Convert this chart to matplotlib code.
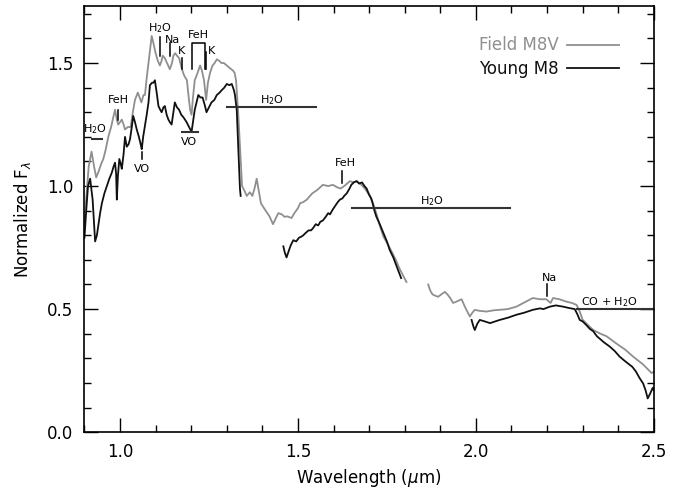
import numpy as np
import matplotlib
matplotlib.use("Agg")
import matplotlib.pyplot as plt
from matplotlib.ticker import MultipleLocator

nan = np.nan

# Field M8V spectrum (gray)
field_wl = [0.900, 0.905, 0.912, 0.920, 0.927, 0.933, 0.940, 0.947, 0.953, 0.960, 0.967, 0.975,
            0.981, 0.986, 0.991, 0.995, 1.000, 1.005, 1.010, 1.014, 1.022, 1.030, 1.036, 1.042,
            1.050, 1.055, 1.060, 1.066, 1.070, 1.075, 1.080, 1.084, 1.089, 1.094, 1.100, 1.106,
            1.112, 1.117, 1.120, 1.126, 1.132, 1.140, 1.146, 1.150, 1.155, 1.160, 1.166, 1.174,
            1.180, 1.188, 1.193, 1.197, 1.201, 1.205, 1.210, 1.218, 1.225, 1.230, 1.236, 1.242,
            1.247, 1.253, 1.260, 1.266, 1.272, 1.278, 1.285, 1.292, 1.300, 1.308, 1.317, 1.322,
            1.326, 1.332, 1.337, 1.340, 1.343, 1.350, 1.356, 1.365, 1.372, 1.378, 1.384, 1.390,
            1.396, 1.407, 1.420, 1.430, 1.438, 1.445, 1.455, 1.462, 1.470, 1.482, 1.490, 1.500,
            1.506, 1.515, 1.525, 1.540, 1.555, 1.570, 1.585, 1.598, 1.610, 1.620, 1.630, 1.646,
            1.655, 1.665, 1.675, 1.688, 1.702, 1.712, 1.720, 1.730, 1.740, 1.752, 1.763, 1.775,
            1.787, 1.796, 1.805,
            1.835,
            1.866, 1.872, 1.878, 1.885, 1.894, 1.903, 1.913, 1.920, 1.928, 1.936, 1.945, 1.952,
            1.960, 1.969, 1.976, 1.983, 1.990, 1.997, 2.010, 2.030, 2.050, 2.067, 2.090, 2.114,
            2.140, 2.160, 2.180, 2.198, 2.210, 2.217, 2.235, 2.255, 2.270, 2.283, 2.292, 2.300,
            2.315, 2.330, 2.350, 2.367, 2.395, 2.420, 2.442, 2.470, 2.494, 2.500]
field_flux = [0.85, 0.95, 1.08, 1.14, 1.08, 1.035, 1.06, 1.09, 1.11, 1.15, 1.20, 1.24,
              1.28, 1.31, 1.27, 1.25, 1.26, 1.27, 1.25, 1.23, 1.24, 1.24, 1.30, 1.35,
              1.38, 1.36, 1.34, 1.37, 1.37, 1.44, 1.50, 1.55, 1.61, 1.58, 1.54, 1.51,
              1.49, 1.51, 1.53, 1.52, 1.50, 1.475, 1.50, 1.53, 1.54, 1.53, 1.52, 1.475,
              1.45, 1.43, 1.36, 1.31, 1.29, 1.36, 1.43, 1.46, 1.49, 1.47, 1.43, 1.35,
              1.42, 1.46, 1.49, 1.50, 1.515, 1.51, 1.50, 1.50, 1.49, 1.48, 1.47, 1.46,
              1.43, 1.30, 1.16, 1.07, 1.00, 0.98, 0.96, 0.975, 0.96, 0.99, 1.03, 0.98,
              0.93, 0.905, 0.877, 0.845, 0.87, 0.89, 0.885, 0.875, 0.877, 0.87, 0.89, 0.91,
              0.93, 0.935, 0.945, 0.97, 0.985, 1.005, 1.00, 1.005, 0.995, 0.99, 1.00, 1.02,
              1.015, 1.02, 1.01, 0.99, 0.96, 0.925, 0.89, 0.84, 0.795, 0.765, 0.735, 0.70,
              0.66, 0.635, 0.61,
              nan,
              0.60, 0.575, 0.56, 0.555, 0.55, 0.56, 0.57, 0.56, 0.545, 0.525, 0.53, 0.535,
              0.54, 0.51, 0.49, 0.47, 0.485, 0.497, 0.493, 0.49, 0.495, 0.497, 0.50, 0.51,
              0.53, 0.545, 0.54, 0.54, 0.525, 0.545, 0.54, 0.53, 0.525, 0.517, 0.49, 0.457,
              0.435, 0.415, 0.40, 0.39, 0.36, 0.335, 0.307, 0.275, 0.24, 0.245]

# Young M8 spectrum (black)
young_wl = [0.900, 0.905, 0.910, 0.916, 0.923, 0.927, 0.930, 0.935, 0.939, 0.944, 0.949, 0.956,
            0.963, 0.970, 0.977, 0.982, 0.986, 0.989, 0.991, 0.994, 0.998, 1.002, 1.005, 1.010,
            1.014, 1.019, 1.024, 1.028, 1.033, 1.037, 1.042, 1.047, 1.053, 1.058, 1.061, 1.065,
            1.070, 1.075, 1.080, 1.084, 1.090, 1.094, 1.098, 1.103, 1.108, 1.113, 1.117, 1.122,
            1.126, 1.131, 1.136, 1.140, 1.145, 1.150, 1.154, 1.160, 1.166, 1.172, 1.178, 1.187,
            1.194, 1.201, 1.205, 1.210, 1.215, 1.220, 1.226, 1.232, 1.238, 1.243, 1.250, 1.257,
            1.265, 1.272, 1.280, 1.286, 1.293, 1.300, 1.307, 1.314, 1.320, 1.323, 1.328, 1.331,
            1.334, 1.337, 1.339,
            1.400,
            1.459, 1.463, 1.468, 1.475, 1.480, 1.487, 1.495, 1.503, 1.510, 1.515, 1.522, 1.530,
            1.537, 1.543, 1.550, 1.557, 1.563, 1.570, 1.578, 1.585, 1.590, 1.598, 1.605, 1.612,
            1.618, 1.625, 1.630, 1.637, 1.645, 1.650, 1.657, 1.665, 1.672, 1.680, 1.687, 1.693,
            1.700, 1.706, 1.710, 1.715, 1.720, 1.730, 1.740, 1.750, 1.758, 1.768, 1.777, 1.785,
            1.790,
            1.900,
            1.988, 1.993, 1.997, 2.004, 2.011, 2.025, 2.040, 2.055, 2.067, 2.090, 2.114, 2.135,
            2.160, 2.180, 2.190, 2.208, 2.225, 2.245, 2.260, 2.278, 2.285, 2.292, 2.300, 2.310,
            2.320, 2.330, 2.340, 2.348, 2.360, 2.376, 2.390, 2.404, 2.418, 2.433, 2.440, 2.450,
            2.460, 2.470, 2.477, 2.483, 2.490, 2.497, 2.500]
young_flux = [0.79, 0.90, 1.00, 1.03, 0.945, 0.85, 0.775, 0.80, 0.84, 0.89, 0.93, 0.97,
              1.00, 1.03, 1.055, 1.08, 1.095, 1.05, 0.945, 1.04, 1.11, 1.09, 1.07, 1.13,
              1.20, 1.16, 1.17, 1.19, 1.24, 1.285, 1.26, 1.23, 1.20, 1.17, 1.15, 1.20,
              1.245, 1.29, 1.34, 1.41, 1.42, 1.42, 1.43, 1.38, 1.325, 1.31, 1.30, 1.32,
              1.325, 1.29, 1.27, 1.26, 1.25, 1.30, 1.34, 1.32, 1.31, 1.29, 1.28, 1.26,
              1.24, 1.22, 1.26, 1.31, 1.34, 1.37, 1.36, 1.36, 1.33, 1.30, 1.32, 1.34,
              1.35, 1.37, 1.38, 1.39, 1.40, 1.415, 1.41, 1.415, 1.39, 1.37, 1.31, 1.20,
              1.08, 0.99, 0.96,
              nan,
              0.755, 0.73, 0.71, 0.74, 0.76, 0.78, 0.775, 0.79, 0.795, 0.80, 0.81, 0.82,
              0.82, 0.83, 0.845, 0.84, 0.855, 0.86, 0.875, 0.89, 0.885, 0.905, 0.92, 0.935,
              0.945, 0.95, 0.96, 0.97, 0.99, 1.005, 1.015, 1.02, 1.01, 1.015, 1.00, 0.99,
              0.965, 0.95, 0.93, 0.90, 0.877, 0.845, 0.81, 0.775, 0.74, 0.71, 0.675, 0.645,
              0.626,
              nan,
              0.456, 0.43, 0.415, 0.44, 0.456, 0.45, 0.443, 0.45, 0.456, 0.465, 0.477, 0.485,
              0.497, 0.503, 0.50, 0.51, 0.515, 0.51, 0.505, 0.50, 0.48, 0.456, 0.45, 0.436,
              0.42, 0.41, 0.39, 0.38, 0.365, 0.348, 0.33, 0.307, 0.29, 0.273, 0.265, 0.246,
              0.22, 0.198, 0.17, 0.137, 0.157, 0.18, 0.17]

# short feature ticks
tick_labels = ["FeH", "VO", "H$_2$O", "Na", "K", "K", "FeH", "Na"]
tick_x = [0.993, 1.061, 1.112, 1.140, 1.175, 1.243, 1.624, 2.201]
tick_y0 = [1.27, 1.11, 1.53, 1.53, 1.475, 1.475, 1.013, 0.555]
tick_y1 = [1.31, 1.14, 1.605, 1.58, 1.52, 1.545, 1.06, 0.60]
tick_lx = [0.995, 1.061, 1.112, 1.147, 1.172, 1.256, 1.634, 2.208]
tick_ly = [1.35, 1.07, 1.64, 1.595, 1.55, 1.55, 1.095, 0.625]

# horizontal band bars
band_labels = ["H$_2$O", "VO", "H$_2$O", "H$_2$O", "CO + H$_2$O"]
band_x0 = [0.920, 1.173, 1.301, 1.651, 2.283]
band_x1 = [0.948, 1.220, 1.551, 2.097, 2.500]
band_y = [1.19, 1.22, 1.32, 0.91, 0.50]
band_lx = [0.930, 1.195, 1.426, 1.877, 2.376]
band_ly = [1.23, 1.18, 1.35, 0.94, 0.53]

fig = plt.figure(figsize=(6.81, 4.95), dpi=100)
ax = fig.add_axes([0.124, 0.127, 0.836, 0.860])

ax.plot(field_wl, field_flux, color="#8f8f8f", lw=1.3, label="Field M8V")
ax.plot(young_wl, young_flux, color="#111111", lw=1.3, label="Young M8")

for lab, x, y0, y1, lx, ly in zip(tick_labels, tick_x, tick_y0, tick_y1, tick_lx, tick_ly):
    ax.plot([x, x], [y0, y1], color="black", lw=1.1)
    ax.text(lx, ly, lab, fontsize=8, ha="center", va="center")

# FeH bracket near 1.2 um
ax.plot([1.201, 1.201, 1.239, 1.239], [1.475, 1.58, 1.58, 1.475], color="black", lw=1.1)
ax.text(1.220, 1.615, "FeH", fontsize=8, ha="center", va="center")

for lab, x0, x1, y, lx, ly in zip(band_labels, band_x0, band_x1, band_y, band_lx, band_ly):
    ax.plot([x0, x1], [y, y], color="#333333", lw=1.5)
    ax.text(lx, ly, lab, fontsize=8, ha="center", va="center")

ax.set_xlim(0.9, 2.5)
ax.set_ylim(0.0, 1.73)
ax.xaxis.set_major_locator(MultipleLocator(0.5))
ax.xaxis.set_minor_locator(MultipleLocator(0.1))
ax.yaxis.set_major_locator(MultipleLocator(0.5))
ax.yaxis.set_minor_locator(MultipleLocator(0.1))
ax.xaxis.set_major_formatter(matplotlib.ticker.FormatStrFormatter("%.1f"))
ax.yaxis.set_major_formatter(matplotlib.ticker.FormatStrFormatter("%.1f"))
ax.tick_params(which="both", direction="in", top=True, right=True, labelsize=12, pad=8)
ax.tick_params(which="major", length=10, width=1)
ax.tick_params(which="minor", length=5, width=1)
for s in ax.spines.values():
    s.set_linewidth(1.2)

ax.set_xlabel("Wavelength ($\\mu$m)", fontsize=12)
ax.set_ylabel("Normalized F$_\\lambda$", fontsize=12, labelpad=10)

leg = ax.legend(loc="upper right", bbox_to_anchor=(0.965, 0.965), frameon=False,
                markerfirst=False, handlelength=3.1, fontsize=12, labelspacing=0.35,
                labelcolor="linecolor", handletextpad=0.5)

fig.savefig("out.png", dpi=100)
